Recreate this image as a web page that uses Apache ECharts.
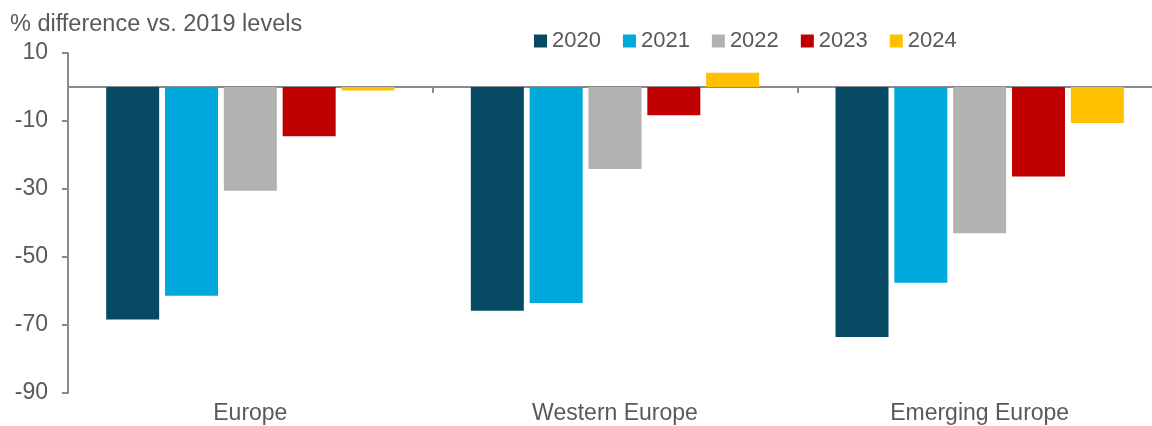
<!DOCTYPE html>
<html>
<head>
<meta charset="utf-8">
<script src="https://cdn.jsdelivr.net/npm/echarts@6/dist/echarts.min.js"></script>
<style>
  html, body { margin: 0; padding: 0; background: #ffffff; }
  #main { width: 1152px; height: 426px; }
</style>
</head>
<body>
<div id="main"></div>
<script>
  // data
  var regions = ['Europe', 'Western Europe', 'Emerging Europe'];
  var years = ['2020', '2021', '2022', '2023', '2024'];
  var v2020 = [-68.4, -65.8, -73.5];
  var v2021 = [-61.4, -63.5, -57.6];
  var v2022 = [-30.5, -24.1, -43.0];
  var v2023 = [-14.5, -8.3, -26.3];
  var v2024 = [-1.0, 4.2, -10.6];
  var yTicks = [-90, -70, -50, -30, -10, 10];

  var colors = ['#074a63', '#00a9dc', '#b2b2b2', '#c00000', '#ffc000'];
  var values = [v2020, v2021, v2022, v2023, v2024];
  var textColor = '#595959';
  var lineColor = '#8a8a8a';
  var font = 'Liberation Sans, Arial, sans-serif';

  var myChart = echarts.init(document.getElementById('main'));

  var series = years.map(function (y, i) {
    return {
      name: y,
      type: 'bar',
      xAxisIndex: 0,
      barWidth: 53,
      barGap: '11%',
      itemStyle: { color: colors[i] },
      data: values[i]
    };
  });

  var option = {
    backgroundColor: '#ffffff',
    animation: false,
    title: {
      text: '% difference vs. 2019 levels',
      left: 5,
      top: 8,
      textStyle: { color: textColor, fontSize: 23.5, fontWeight: 'normal', fontFamily: font }
    },
    legend: {
      data: years,
      left: 529,
      top: 25,
      itemWidth: 13,
      itemHeight: 13,
      itemGap: 22,
      icon: 'rect',
      textStyle: { color: textColor, fontSize: 22, fontFamily: font }
    },
    // axis runs a little past the right edge of the picture
    grid: {
      left: 68,
      width: 1094,
      top: 53,
      bottom: 33,
      outerBoundsMode: 'none'
    },
    xAxis: [{
      type: 'category',
      data: regions,
      position: 'bottom',
      axisLine: { onZero: true, lineStyle: { color: lineColor, width: 2 } },
      axisTick: { show: true, length: 6, lineStyle: { color: lineColor, width: 2 } },
      axisLabel: { show: false }
    }, {
      type: 'category',
      data: regions,
      position: 'bottom',
      axisLine: { show: false, onZero: false },
      axisTick: { show: false },
      axisLabel: { color: textColor, fontSize: 23, fontFamily: font, margin: 9 }
    }],
    yAxis: {
      type: 'value',
      min: yTicks[0],
      max: yTicks[yTicks.length - 1],
      interval: 20,
      splitLine: { show: false },
      axisLine: { show: true, lineStyle: { color: lineColor, width: 2 } },
      axisTick: { show: true, length: 6, lineStyle: { color: lineColor, width: 2 } },
      axisLabel: { color: textColor, fontSize: 23, fontFamily: font, margin: 20 }
    },
    series: series
  };

  myChart.setOption(option);
</script>
</body>
</html>
